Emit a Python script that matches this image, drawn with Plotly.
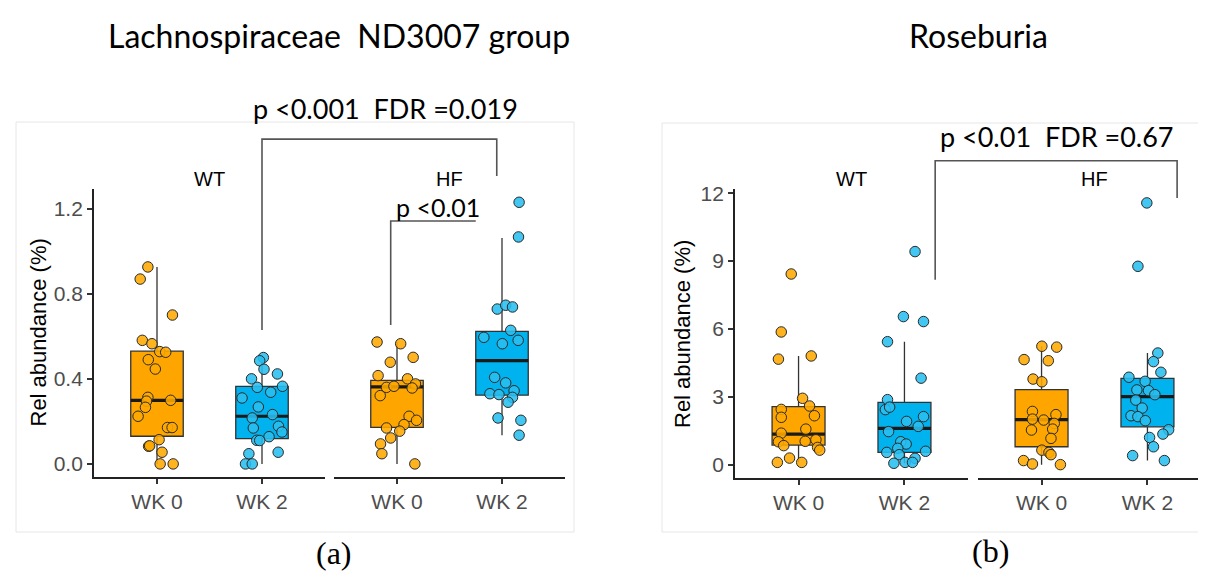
import plotly.graph_objects as go

# ---------------- data ----------------
categories = ["WK 0", "WK 2"]
cat_pos = [1, 2]
facets = ["WT", "HF"]

# Panel (a) Lachnospiraceae ND3007 group
a_wt_wk0 = [0.926, 0.869, 0.70, 0.581, 0.565, 0.528, 0.525, 0.49, 0.446, 0.313, 0.295,
            0.299, 0.266, 0.224, 0.171, 0.171, 0.114, 0.083, 0.085, 0.055, 0.0, 0.0]
a_wt_wk0_jit = [-0.087, -0.16, 0.147, -0.14, -0.048, 0.026, 0.083, -0.083, -0.016, -0.087, -0.10,
                0.13, -0.11, -0.18, 0.10, 0.144, 0.02, -0.08, -0.07, 0.048, 0.03, 0.154]
a_wt_wk2 = [0.50, 0.485, 0.445, 0.423, 0.40, 0.36, 0.365, 0.337, 0.31, 0.268, 0.216,
            0.232, 0.169, 0.177, 0.15, 0.128, 0.111, 0.11, 0.048, 0.055, 0.0, 0.0]
a_wt_wk2_jit = [0.013, -0.022, 0.019, 0.147, -0.10, -0.045, 0.195, 0.083, -0.19, -0.035, -0.093,
                0.1, -0.083, 0.157, 0.19, 0.067, -0.05, -0.022, -0.125, 0.154, -0.157, -0.093]
a_hf_wk0 = [0.573, 0.565, 0.478, 0.501, 0.415, 0.40, 0.376, 0.36, 0.365, 0.321, 0.357,
            0.224, 0.205, 0.185, 0.169, 0.154, 0.122, 0.094, 0.048, 0.0]
a_hf_wk0_jit = [-0.19, 0.035, -0.064, 0.154, -0.18, 0.1, 0.176, -0.1, -0.029, -0.16, 0.144,
                0.115, 0.186, 0.067, -0.1, 0.026, -0.06, -0.157, -0.144, 0.17]
a_hf_wk2 = [1.23, 1.067, 0.728, 0.746, 0.738, 0.628, 0.595, 0.581, 0.565, 0.407, 0.381,
            0.33, 0.326, 0.344, 0.313, 0.29, 0.216, 0.205, 0.135]
a_hf_wk2_jit = [0.163, 0.157, -0.045, 0.035, 0.1, 0.083, -0.173, 0.154, 0.003, -0.07, 0.035,
                -0.115, -0.029, 0.115, 0.1, 0.058, -0.038, 0.18, 0.163]

# box stats (q1, median, q3, lower whisker, upper whisker)
a_box = {
    ("WT", 0): [0.130, 0.299, 0.530, 0.0, 0.926],
    ("WT", 1): [0.119, 0.224, 0.365, 0.0, 0.50],
    ("HF", 0): [0.172, 0.362, 0.393, 0.0, 0.573],
    ("HF", 1): [0.323, 0.486, 0.623, 0.135, 1.062],
}

# Panel (b) Roseburia
b_wt_wk0 = [8.43, 5.87, 4.67, 4.81, 2.94, 2.45, 2.1, 2.6, 2.17, 1.58, 1.4,
            1.02, 0.85, 1.04, 1.11, 0.77, 0.65, 0.11, 0.30, 0.11]
b_wt_wk0_jit = [-0.069, -0.163, -0.19, 0.12, 0.038, -0.163, -0.163, 0.104, 0.15, 0.069, -0.163,
                -0.19, -0.14, 0.063, 0.164, 0.18, 0.2, -0.2, -0.085, 0.03]
b_wt_wk2 = [9.42, 6.55, 6.33, 5.44, 3.83, 2.88, 2.44, 2.55, 2.13, 1.92, 1.7,
            1.47, 1.02, 0.92, 0.73, 0.6, 0.55, 0.45, 0.29, 0.07, 0.11, 0.11]
b_wt_wk2_jit = [0.1, -0.01, 0.18, -0.16, 0.157, -0.16, -0.18, -0.14, 0.18, 0.02, 0.13,
                -0.15, -0.035, 0.016, -0.063, 0.2, -0.167, -0.05, 0.1, -0.1, 0.006, 0.076]
b_hf_wk0 = [5.24, 5.2, 4.65, 4.6, 3.79, 3.67, 2.36, 2.22, 2.02, 1.98, 1.83,
            1.54, 1.58, 1.17, 0.65, 0.55, 0.45, 0.19, 0.04, 0.01]
b_hf_wk0_jit = [0.003, 0.143, -0.165, 0.064, -0.08, 0.003, -0.086, 0.136, -0.086, 0.02, 0.12,
                -0.095, 0.105, 0.089, 0.003, 0.07, 0.089, -0.17, -0.086, 0.178]
b_hf_wk2 = [11.57, 8.77, 4.94, 4.56, 4.09, 3.87, 3.69, 3.31, 3.28, 3.1, 2.86,
            2.51, 2.17, 2.13, 1.95, 1.55, 1.36, 1.21, 0.8, 0.41, 0.19]
b_hf_wk2_jit = [-0.006, -0.09, 0.098, 0.057, 0.127, -0.175, -0.022, -0.1, 0.01, 0.07, -0.11,
                -0.05, -0.155, -0.09, -0.02, 0.2, 0.146, 0.02, 0.057, -0.14, 0.16]

b_box = {
    ("WT", 0): [0.875, 1.36, 2.57, 0.11, 4.81],
    ("WT", 1): [0.55, 1.61, 2.76, 0.07, 5.44],
    ("HF", 0): [0.80, 2.0, 3.32, 0.01, 5.24],
    ("HF", 1): [1.68, 3.01, 3.82, 0.19, 4.94],
}

a_yticks = [0.0, 0.4, 0.8, 1.2]
a_yticktext = ["0.0", "0.4", "0.8", "1.2"]
b_yticks = [0, 3, 6, 9, 12]

titles = ["Lachnospiraceae\u00a0\u00a0ND3007 group", "Roseburia"]
panel_tags = ["(a)", "(b)"]
y_title = "Rel abundance (%)"
sig_a_big = "p <0.001\u00a0\u00a0FDR =0.019"
sig_a_small = "p <0.01"
sig_b = "p <0.01\u00a0\u00a0FDR =0.67"

# ---------------- style ----------------
W, H = 1206, 575
BOX_FILL = ["#FFA500", "#00B2EE"]
PT_FILL = ["rgba(255,168,0,0.88)", "rgba(40,190,240,0.88)"]
BOX_W = 0.5
XR = [0.4, 2.6]
A_YR = [-0.0615, 1.2915]
B_YR = [-0.58, 12.18]

def px(x):
    return x / W

def py(y):
    return 1 - y / H

dom = {
    "x": [px(86), px(317)],
    "x2": [px(326), px(557)],
    "x3": [px(727), px(960)],
    "x4": [px(970), px(1203)],
}
ydom = {"y": [py(469), py(181.2)], "y2": [py(470), py(181.1)]}

def to_paper(xax, yax, xv, yv):
    d = dom[xax]
    yr = A_YR if yax == "y" else B_YR
    yd = ydom[yax]
    xp = d[0] + (xv - XR[0]) / (XR[1] - XR[0]) * (d[1] - d[0])
    yp = yd[0] + (yv - yr[0]) / (yr[1] - yr[0]) * (yd[1] - yd[0])
    return xp, yp

fig = go.Figure()

panels = [
    ("y", {"WT": "x", "HF": "x2"}, a_box,
     {("WT", 0): (a_wt_wk0, a_wt_wk0_jit), ("WT", 1): (a_wt_wk2, a_wt_wk2_jit),
      ("HF", 0): (a_hf_wk0, a_hf_wk0_jit), ("HF", 1): (a_hf_wk2, a_hf_wk2_jit)}),
    ("y2", {"WT": "x3", "HF": "x4"}, b_box,
     {("WT", 0): (b_wt_wk0, b_wt_wk0_jit), ("WT", 1): (b_wt_wk2, b_wt_wk2_jit),
      ("HF", 0): (b_hf_wk0, b_hf_wk0_jit), ("HF", 1): (b_hf_wk2, b_hf_wk2_jit)}),
]

for yax, xmap, boxes, pts in panels:
    for fac in facets:
        xax = xmap[fac]
        for ci in range(2):
            q1, med, q3, lo, hi = boxes[(fac, ci)]
            fig.add_trace(go.Box(
                x=[cat_pos[ci]], q1=[q1], median=[med], q3=[q3],
                lowerfence=[lo], upperfence=[hi], width=BOX_W, whiskerwidth=0,
                fillcolor=BOX_FILL[ci], line=dict(color="#333333", width=1.3),
                boxpoints=False, hoverinfo="skip", showlegend=False,
                xaxis=xax, yaxis=yax))
        for ci in range(2):
            q1, med, q3, lo, hi = boxes[(fac, ci)]
            fig.add_trace(go.Scatter(
                x=[cat_pos[ci] - BOX_W / 2, cat_pos[ci] + BOX_W / 2], y=[med, med],
                mode="lines", line=dict(color="#1a1a1a", width=3.2),
                hoverinfo="skip", showlegend=False, xaxis=xax, yaxis=yax))
        for ci in range(2):
            vals, jit = pts[(fac, ci)]
            fig.add_trace(go.Scatter(
                x=[cat_pos[ci] + j for j in jit], y=vals, mode="markers",
                marker=dict(size=10.5, color=PT_FILL[ci],
                            line=dict(color="#2a2a2a", width=1)),
                hoverinfo="skip", showlegend=False, xaxis=xax, yaxis=yax))

axis_common = dict(showgrid=False, zeroline=False, showline=True, linecolor="#222222",
                   linewidth=1.8, ticks="outside", ticklen=5, tickwidth=1.5,
                   tickcolor="#333333", automargin=False,
                   tickfont=dict(family="Liberation Sans", size=21, color="#4D4D4D"))

layout = dict(
    width=W, height=H, margin=dict(l=0, r=0, t=0, b=0, autoexpand=False),
    paper_bgcolor="white", plot_bgcolor="rgba(0,0,0,0)", boxmode="overlay",
    showlegend=False,
)
for xa, ya in [("x", "y"), ("x2", "y"), ("x3", "y2"), ("x4", "y2")]:
    key = "xaxis" if xa == "x" else "xaxis" + xa[1:]
    layout[key] = dict(axis_common, domain=dom[xa], range=XR, anchor=ya,
                       tickvals=cat_pos, ticktext=categories, fixedrange=True)
layout["yaxis"] = dict(axis_common, domain=ydom["y"], range=A_YR, anchor="x",
                       tickvals=a_yticks, ticktext=a_yticktext)
layout["yaxis2"] = dict(axis_common, domain=ydom["y2"], range=B_YR, anchor="x3",
                        tickvals=b_yticks)
fig.update_layout(**layout)

# faint panel frames
shapes = [
    dict(type="rect", xref="paper", yref="paper", x0=px(8), x1=px(566), y0=py(524), y1=py(114),
         line=dict(color="#E6E6E6", width=1), fillcolor="rgba(0,0,0,0)", layer="below"),
    dict(type="rect", xref="paper", yref="paper", x0=px(654), x1=px(1205), y0=py(524), y1=py(115),
         line=dict(color="#E6E6E6", width=1), fillcolor="rgba(0,0,0,0)", layer="below"),
]

def bracket(pts_data):
    path = []
    for i, (xa, ya, xv, yv) in enumerate(pts_data):
        xp, yp = to_paper(xa, ya, xv, yv)
        path.append(("M" if i == 0 else "L") + f" {xp:.5f} {yp:.5f}")
    return dict(type="path", xref="paper", yref="paper", path=" ".join(path),
                line=dict(color="#555555", width=1.6))

shapes.append(bracket([("x", "y", 2.0, 0.63), ("x", "y", 2.0, 1.527),
                       ("x2", "y", 1.95, 1.527), ("x2", "y", 1.95, 1.353)]))
shapes.append(bracket([("x2", "y", 0.94, 0.653), ("x2", "y", 0.94, 1.142),
                       ("x2", "y", 1.75, 1.142)]))
shapes.append(bracket([("x3", "y2", 2.29, 8.18), ("x3", "y2", 2.29, 13.43),
                       ("x4", "y2", 2.28, 13.43), ("x4", "y2", 2.28, 11.79)]))
fig.update_layout(shapes=shapes)

ann = []
TF = "Lato"

def note(text, x, y, font, angle=0):
    ann.append(dict(text=text, x=px(x), y=py(y), xref="paper", yref="paper",
                    xanchor="center", yanchor="middle", showarrow=False,
                    textangle=angle, font=font))

note(titles[0], 331, 27, dict(family=TF, size=32, color="black"))
note(titles[1], 970, 27, dict(family=TF, size=32, color="black"))
note(sig_a_big, 377, 100, dict(family=TF, size=27, color="black"))
note(sig_a_small, 430, 199, dict(family=TF, size=25, color="black"))
note(sig_b, 1049, 129, dict(family=TF, size=27, color="black"))
note(y_title, 29.5, 325, dict(family="Liberation Sans", size=22, color="black"), -90)
note(y_title, 674, 326, dict(family="Liberation Sans", size=22, color="black"), -90)
for xa in ["x", "x2", "x3", "x4"]:
    lab = "WT" if xa in ("x", "x3") else "HF"
    ann.append(dict(text=lab, x=0.5, xref=xa + " domain", y=py(171), yref="paper",
                    xanchor="center", yanchor="middle", showarrow=False,
                    font=dict(family="Liberation Sans", size=20, color="black")))
note(panel_tags[0], 326, 545, dict(family="Liberation Serif", size=32, color="black"))
note(panel_tags[1], 982, 543, dict(family="Liberation Serif", size=32, color="black"))
fig.update_layout(annotations=ann)

fig.write_html("out.html")
